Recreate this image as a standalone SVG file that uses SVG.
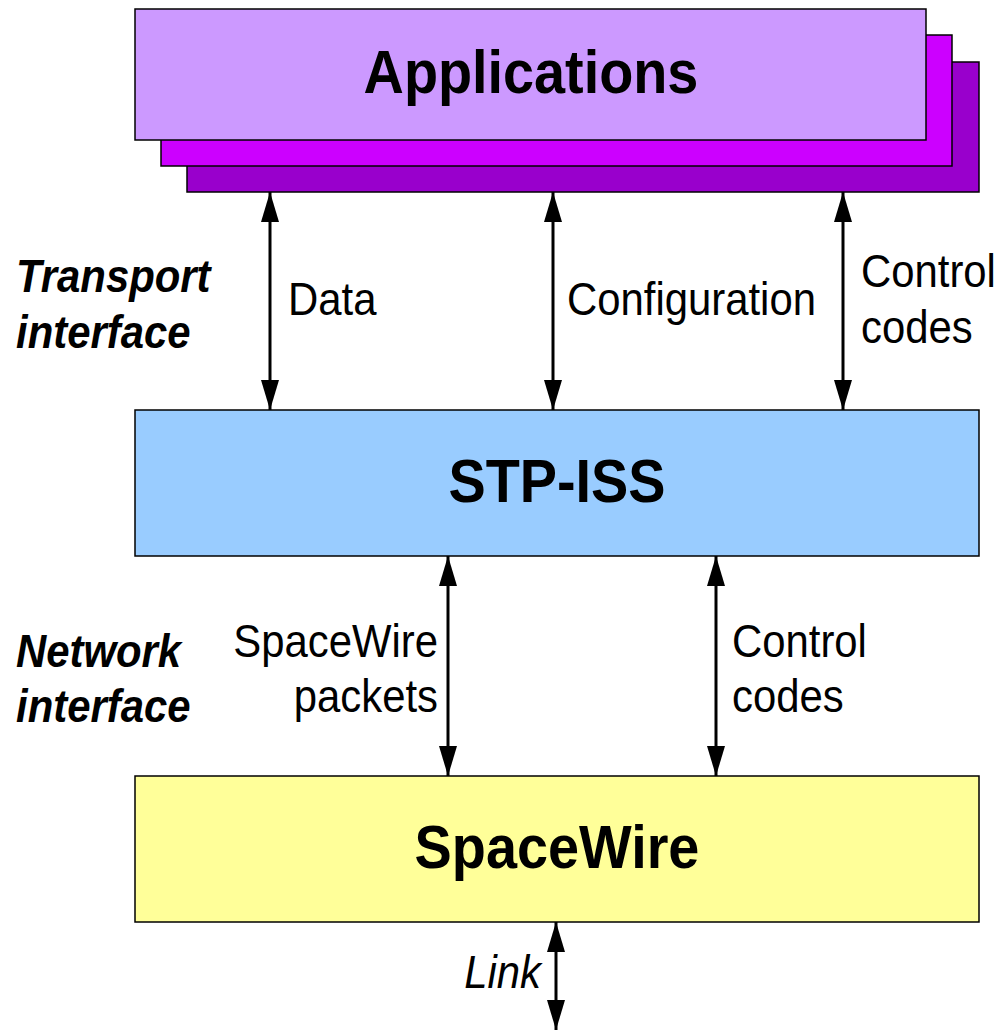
<svg xmlns="http://www.w3.org/2000/svg" width="1002" height="1030" viewBox="0 0 1002 1030">
  <style>
    .box { stroke: #000; stroke-width: 1.5; }
    .title { font-family: "Liberation Sans", Arial, sans-serif; font-weight: bold; font-size: 62px; fill: #000; text-anchor: middle; }
    .lbl { font-family: "Liberation Sans", Arial, sans-serif; font-size: 46px; fill: #000; }
    .side { font-family: "Liberation Sans", Arial, sans-serif; font-size: 46px; font-weight: bold; font-style: italic; fill: #000; }
    .conn { stroke: #000; stroke-width: 3; fill: none; marker-start: url(#head); marker-end: url(#head); }
  </style>
  <defs>
    <marker id="head" viewBox="0 0 30 18" refX="30" refY="9" markerWidth="30" markerHeight="18" markerUnits="userSpaceOnUse" orient="auto-start-reverse">
      <path d="M0,0 L30,9 L0,18 Z" fill="#000"/>
    </marker>
  </defs>
  <rect width="1002" height="1030" fill="#fff"/>

  <g id="applications">
    <rect class="box" x="187" y="62" width="792" height="130" fill="#9900CC"/>
    <rect class="box" x="161" y="35" width="791" height="131" fill="#CC00FF"/>
    <rect class="box" x="135" y="9" width="791" height="131" fill="#CC99FF"/>
    <text class="title" transform="matrix(0.9 0 0 1 531 93)">Applications</text>
  </g>

  <g id="stp-iss">
    <rect class="box" x="135" y="410" width="844" height="146" fill="#99CCFF"/>
    <text class="title" transform="matrix(0.9 0 0 1 557 502)">STP-ISS</text>
  </g>

  <g id="spacewire">
    <rect class="box" x="135" y="776" width="844" height="146" fill="#FFFF99"/>
    <text class="title" transform="matrix(0.9 0 0 1 557 868)">SpaceWire</text>
  </g>

  <g id="connectors">
    <line class="conn" x1="270" y1="192" x2="270" y2="410"/>
    <line class="conn" x1="553" y1="192" x2="553" y2="410"/>
    <line class="conn" x1="843" y1="192" x2="843" y2="410"/>
    <line class="conn" x1="448" y1="556" x2="448" y2="776"/>
    <line class="conn" x1="716" y1="556" x2="716" y2="776"/>
    <line class="conn" x1="556" y1="922" x2="556" y2="1030"/>
  </g>

  <g id="labels">
    <text class="lbl" transform="matrix(0.91 0 0 1 288 315)">Data</text>
    <text class="lbl" transform="matrix(0.91 0 0 1 567 315)">Configuration</text>
    <text class="lbl" transform="matrix(0.91 0 0 1 861 287)">Control</text>
    <text class="lbl" transform="matrix(0.91 0 0 1 861 343)">codes</text>
    <text class="lbl" text-anchor="end" transform="matrix(0.91 0 0 1 438 657)">SpaceWire</text>
    <text class="lbl" text-anchor="end" transform="matrix(0.91 0 0 1 438 712)">packets</text>
    <text class="lbl" transform="matrix(0.91 0 0 1 732 657)">Control</text>
    <text class="lbl" transform="matrix(0.91 0 0 1 732 712)">codes</text>
    <text class="lbl" text-anchor="end" font-style="italic" transform="matrix(0.91 0 0 1 541 988)">Link</text>
    <text class="side" transform="matrix(0.91 0 0 1 16 292)">Transport</text>
    <text class="side" transform="matrix(0.91 0 0 1 16 348)">interface</text>
    <text class="side" transform="matrix(0.91 0 0 1 16 667)">Network</text>
    <text class="side" transform="matrix(0.91 0 0 1 16 722)">interface</text>
  </g>
</svg>
